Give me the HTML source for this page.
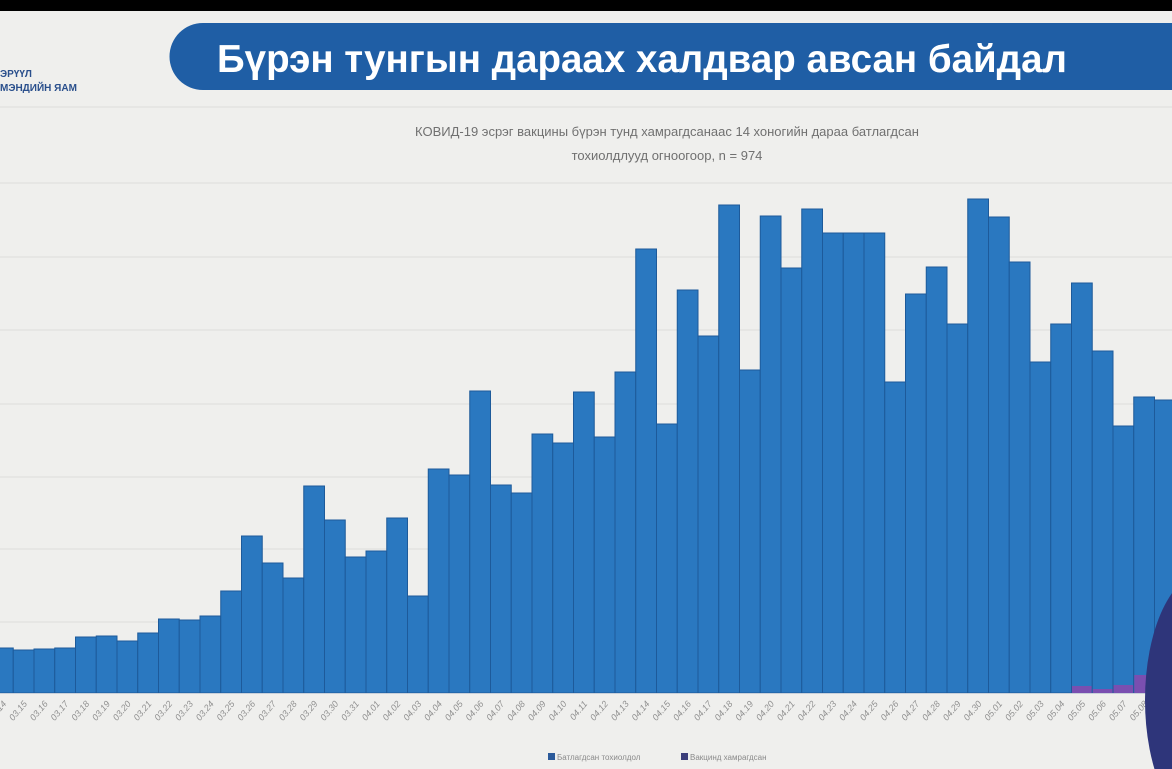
<!DOCTYPE html>
<html><head><meta charset="utf-8"><style>
html,body{margin:0;padding:0;width:1172px;height:769px;overflow:hidden;background:#efefed;font-family:"Liberation Sans",sans-serif}
svg{display:block}
</style></head><body>
<svg id="s" width="1172" height="769" xmlns="http://www.w3.org/2000/svg" style="position:absolute;left:0;top:0">
<rect x="0" y="0" width="1172" height="769" fill="#efefed"/>
<rect x="0" y="0" width="1172" height="11" fill="#000"/>
<path d="M203 23 H1172 V90 H203 A33.5 33.5 0 0 1 203 23 Z" fill="#1f5ea5"/>
<text x="642" y="72" font-size="38.5" font-weight="bold" fill="#fff" text-anchor="middle" font-family="Liberation Sans, sans-serif">Бүрэн тунгын дараах халдвар авсан байдал</text>
<text x="0" y="77" font-size="10" font-weight="bold" fill="#2a4f8c">ЭРҮҮЛ</text>
<text x="0" y="91" font-size="10" font-weight="bold" fill="#2a4f8c">МЭНДИЙН ЯАМ</text>
<line x1="0" y1="107" x2="1172" y2="107" stroke="#dcdcda" stroke-width="1"/>
<line x1="0" y1="183" x2="1172" y2="183" stroke="#dcdcda" stroke-width="1"/>
<text x="667" y="136" font-size="13" fill="#707070" text-anchor="middle">КОВИД-19 эсрэг вакцины бүрэн тунд хамрагдсанаас 14 хоногийн дараа батлагдсан</text>
<text x="667" y="160" font-size="13" fill="#707070" text-anchor="middle">тохиолдлууд огноогоор, n = 974</text>
<g stroke="#dddddb" stroke-width="1">
<line x1="0" y1="257" x2="1172" y2="257"/><line x1="0" y1="330" x2="1172" y2="330"/>
<line x1="0" y1="404" x2="1172" y2="404"/><line x1="0" y1="477" x2="1172" y2="477"/>
<line x1="0" y1="549" x2="1172" y2="549"/><line x1="0" y1="622" x2="1172" y2="622"/>
</g>
<g id="bars"></g>
<line x1="0" y1="693.5" x2="1172" y2="693.5" stroke="#c8d0da" stroke-width="1"/>
<g id="labels" font-size="9" font-style="italic" fill="#909090"></g>
<rect x="548" y="753" width="7" height="7" fill="#2b5a9a"/>
<text x="557" y="760" font-size="8" fill="#8a8a8a">Батлагдсан тохиолдол</text>
<rect x="681" y="753" width="7" height="7" fill="#3b3e7a"/>
<text x="690" y="760" font-size="8" fill="#8a8a8a">Вакцинд хамрагдсан</text>
<ellipse cx="1205" cy="700" rx="60" ry="128" fill="#2e357a"/>
</svg>
<script>
var tops=[648,650,649,648,637,636,641,633,619,620,616,591,536,563,578,486,520,557,551,518,596,469,475,391,485,493,434,443,392,437,372,249,424,290,336,205,370,216,268,209,233,233,233,382,294,267,324,199,217,262,362,324,283,351,426,397,400];
var purple={52:686,53:689,54:685,55:675,56:672};
var dates=[];
dates.push("03.14");for(var d=15;d<=31;d++)dates.push("03."+d);
for(var d=1;d<=30;d++)dates.push("04."+(d<10?"0"+d:d));
for(var d=1;d<=9;d++)dates.push("05.0"+d);
var ns="http://www.w3.org/2000/svg",b=document.getElementById("bars"),l=document.getElementById("labels");
var x0=-7.5,w=20.75;
for(var i=0;i<tops.length;i++){
 var x=x0+i*w;
 var r=document.createElementNS(ns,"rect");
 r.setAttribute("x",x);r.setAttribute("y",tops[i]);r.setAttribute("width",w);r.setAttribute("height",693-tops[i]);
 r.setAttribute("fill","#2a78c0");r.setAttribute("stroke","#1d5a9a");r.setAttribute("stroke-width","1");b.appendChild(r);
 if(purple[i]){var p=document.createElementNS(ns,"rect");p.setAttribute("x",x+0.5);p.setAttribute("y",purple[i]);p.setAttribute("width",w-1);p.setAttribute("height",693-purple[i]);p.setAttribute("fill","#7a4fb0");b.appendChild(p);}
 var t=document.createElementNS(ns,"text");var cx=x+w/2+4,cy=704;
 t.setAttribute("x",cx);t.setAttribute("y",cy);t.setAttribute("text-anchor","end");
 t.setAttribute("transform","rotate(-50 "+cx+" "+cy+")");t.textContent=dates[i];l.appendChild(t);
}
</script>
</body></html>
